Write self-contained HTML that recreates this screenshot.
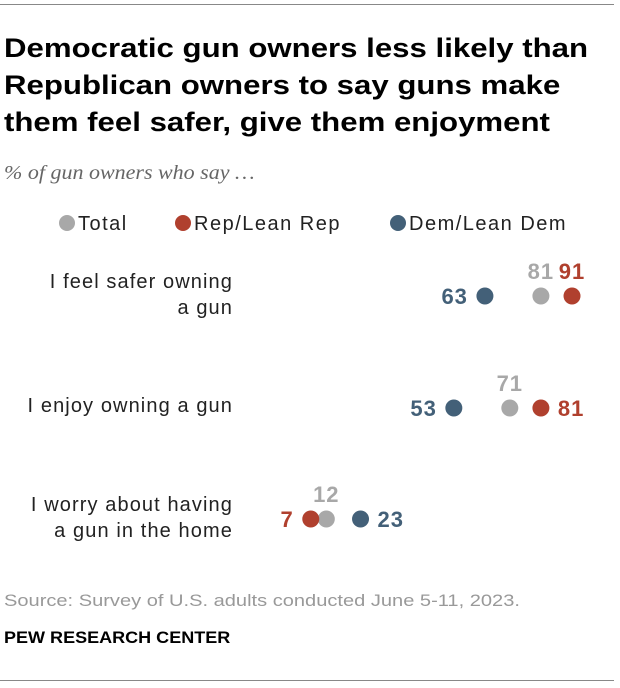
<!DOCTYPE html>
<html><head><meta charset="utf-8"><style>
body{margin:0;background:#fff;font-family:"Liberation Sans",sans-serif;}
#wrap{position:relative;width:620px;height:688px;overflow:hidden}
.abs{position:absolute;white-space:nowrap;transform-origin:0 0}
</style></head><body>
<div id="wrap">
<div class="abs" style="left:0;top:4px;width:614px;height:1px;background:#888"></div>
<div class="abs" style="left:4px;top:30px;font-size:27px;font-weight:bold;line-height:37px;color:#000;transform:scaleX(1.155)">Democratic gun owners less likely than<br>Republican owners to say guns make<br>them feel safer, give them enjoyment</div>
<div class="abs" style="left:4px;top:162px;font-size:20px;font-style:italic;color:#666;font-family:'Liberation Serif',serif;transform:scaleX(1.1)">% of gun owners who say …</div>
<svg class="abs" style="left:0;top:0" width="620" height="688" id="svg"></svg>
<div class="abs" style="left:4px;top:591px;font-size:17px;color:#999;transform:scaleX(1.18)">Source: Survey of U.S. adults conducted June 5-11, 2023.</div>
<div class="abs" style="left:4px;top:628px;font-size:17px;font-weight:bold;color:#000;transform:scaleX(1.06)">PEW RESEARCH CENTER</div>
<div class="abs" style="left:0;top:680px;width:614px;height:1px;background:#888"></div>
</div>
<script>
const categories=["I feel safer owning|a gun","I enjoy owning a gun","I worry about having|a gun in the home"];
const totalVals=[81,71,12];
const repVals=[91,81,7];
const demVals=[63,53,23];
const NS="http://www.w3.org/2000/svg";
const svg=document.getElementById('svg');
const x=v=>289+v*3.11;
const rowY=[296,408,519];
const C={t:"#a8a8a8",r:"#b0402e",d:"#436078"};
function mk(tag,attrs){const e=document.createElementNS(NS,tag);for(const k in attrs)e.setAttribute(k,attrs[k]);svg.appendChild(e);return e;}
[["Total",C.t,67],["Rep/Lean Rep",C.r,183],["Dem/Lean Dem",C.d,398]].forEach(([t,c,lx])=>{
 const d=mk('circle',{cx:lx,cy:223,r:8,fill:c});
 
 
 const tx=mk('text',{x:lx+11,y:230,'font-size':20,'letter-spacing':1.5,fill:'#222'});tx.textContent=t;
 
 
});
categories.forEach((cat,i)=>{
 const y=rowY[i];const lines=cat.split('|');
 lines.forEach((l,j)=>{
  const ty=lines.length==1?y+4:y-8+j*26;
  const t=mk('text',{x:233,y:ty,'text-anchor':'end','font-size':20,'letter-spacing':1.1,fill:'#222'});t.textContent=l;
  
  
 });
 const vals={t:totalVals[i],r:repVals[i],d:demVals[i]};
 ['d','t','r'].forEach(k=>{
  const c=mk('circle',{cx:x(vals[k]),cy:y,r:8.5,fill:C[k]});
  
  
 });
 const lo=vals.r<vals.d?'r':'d', hi=lo=='r'?'d':'r';
 const place=(k,mode)=>{
  let a={'font-size':22,'font-weight':'bold','letter-spacing':1,fill:C[k]};
  if(mode=='above'){a.x=x(vals[k]);a.y=y-17;a['text-anchor']='middle';}
  else if(mode=='left'){a.x=x(vals[k])-17;a.y=y+8;a['text-anchor']='end';}
  else {a.x=x(vals[k])+17;a.y=y+8;a['text-anchor']='start';}
  const t=mk('text',a);t.textContent=vals[k];
  
  
 };
 place('t','above');
 place(lo,'left');
 if(vals[hi]>=88) place(hi,'above'); else place(hi,'right');
});
</script>
</body></html>
